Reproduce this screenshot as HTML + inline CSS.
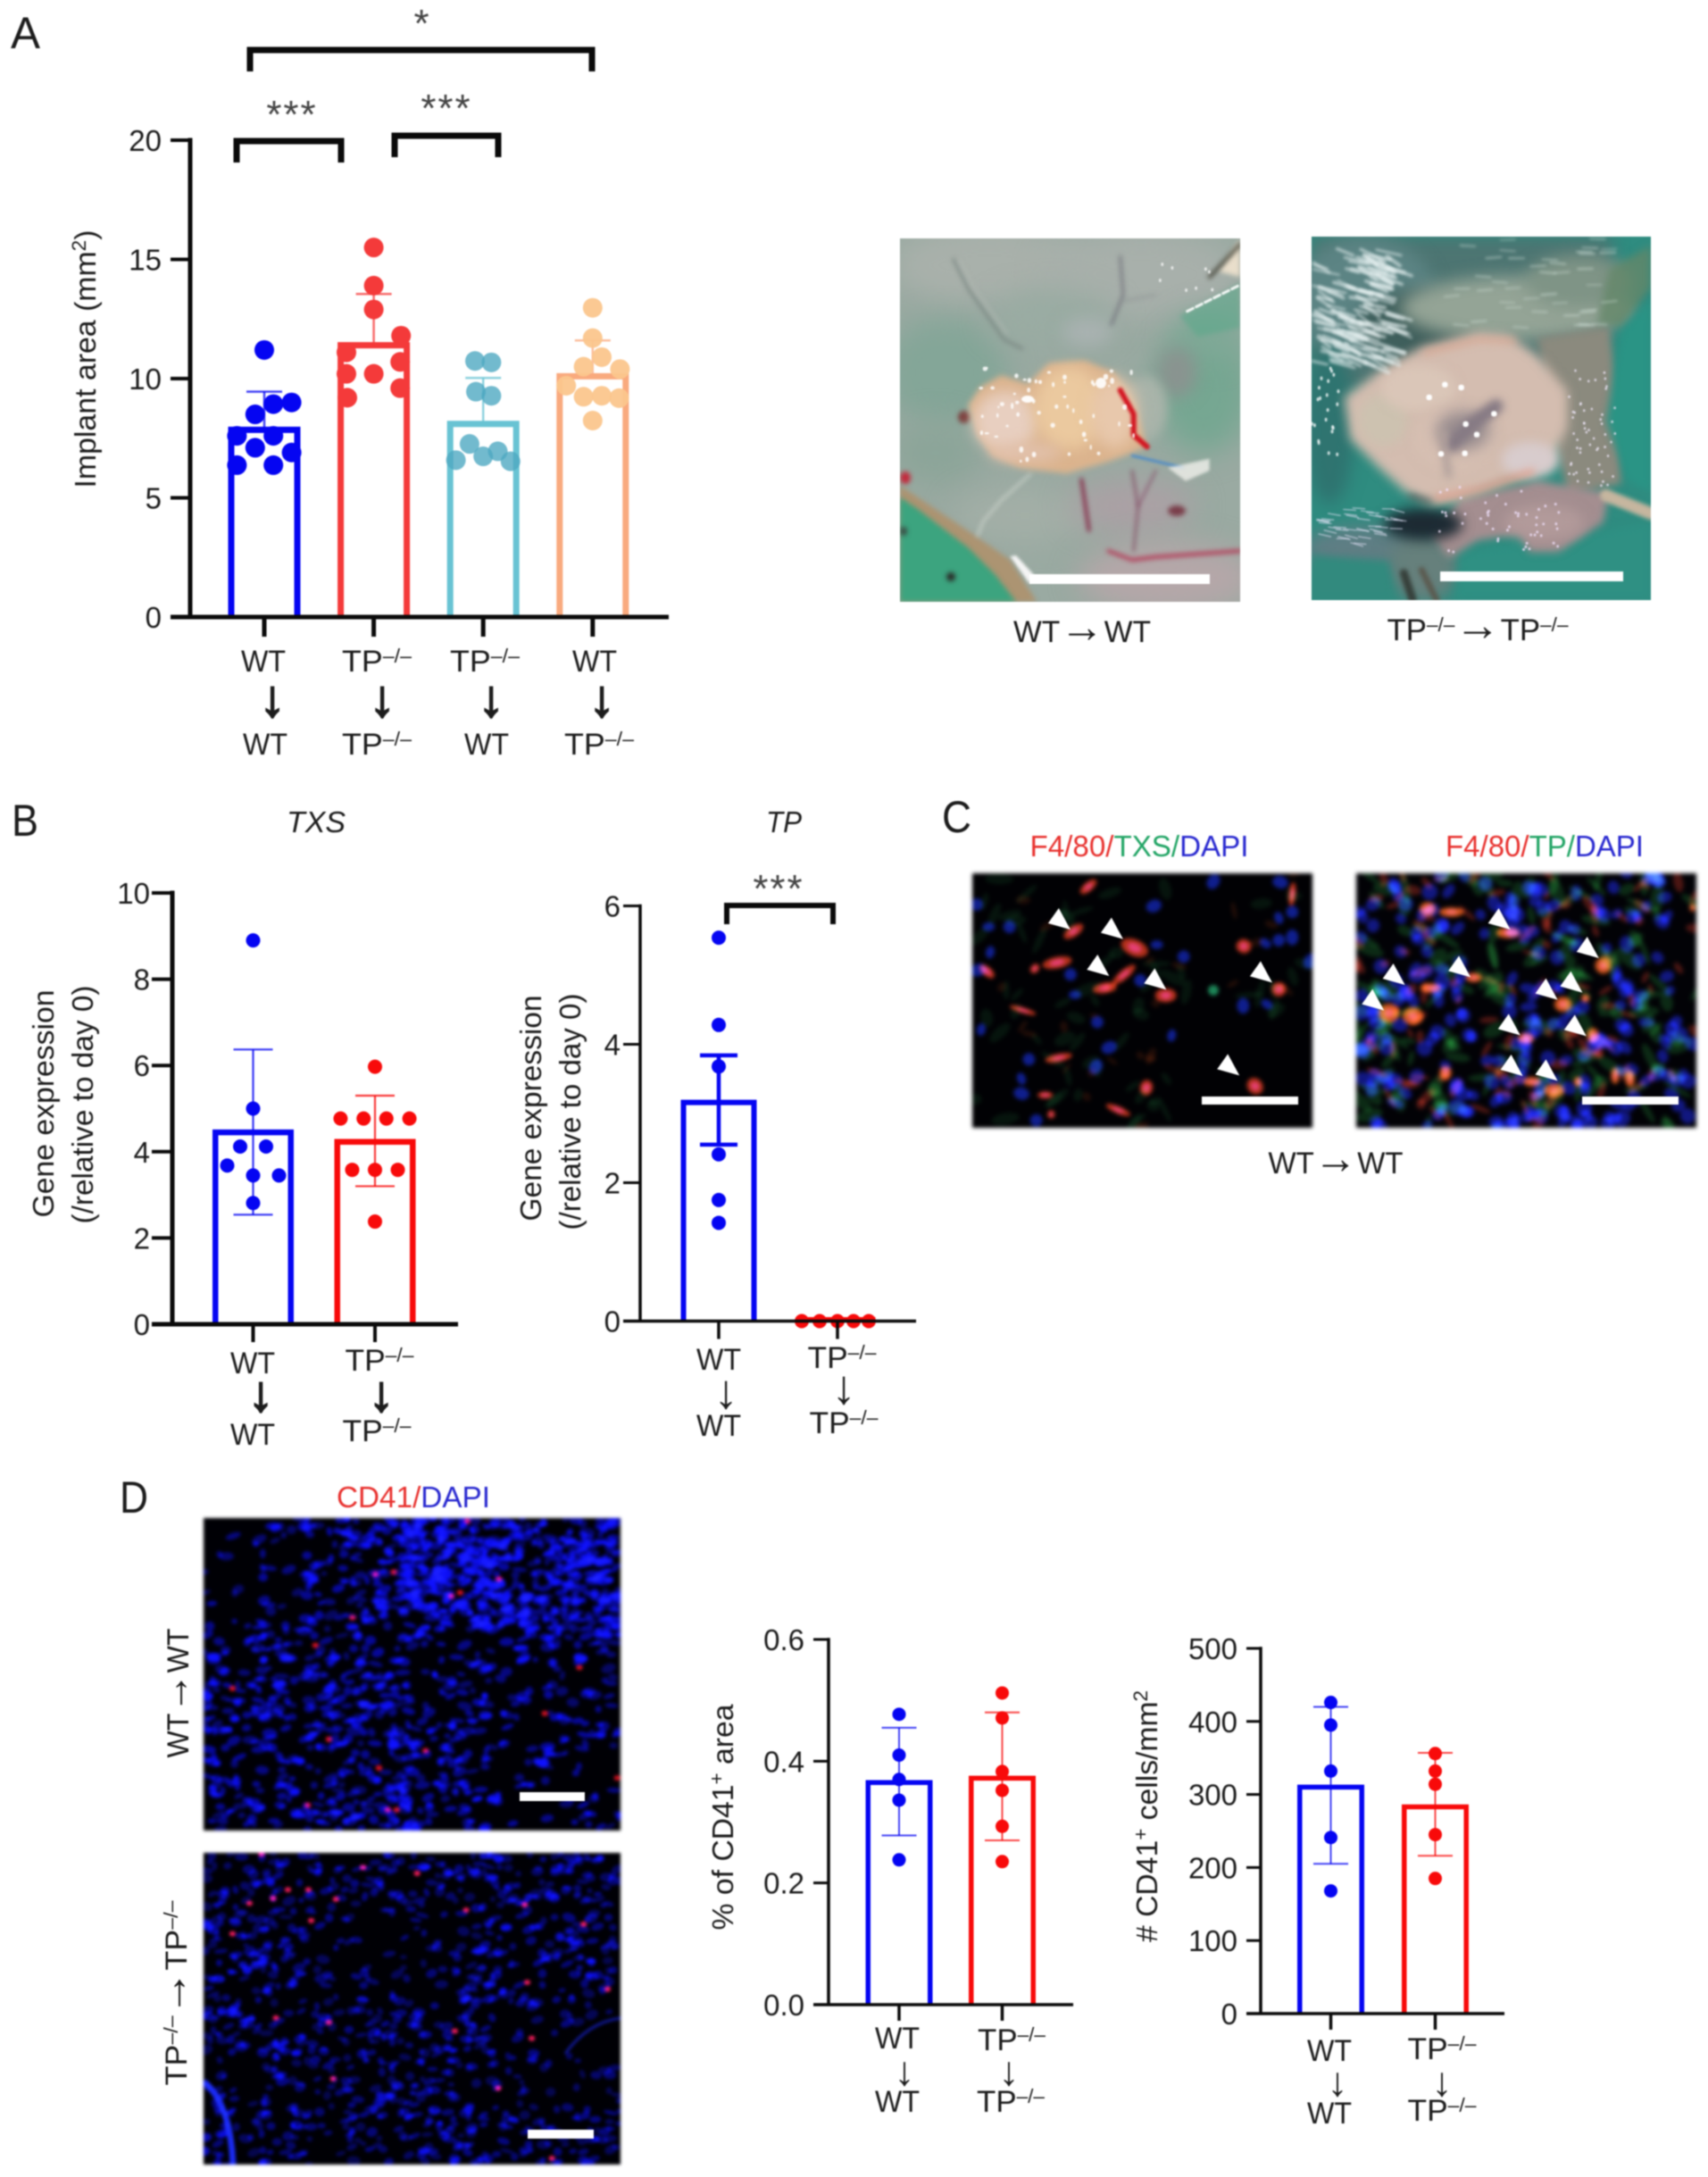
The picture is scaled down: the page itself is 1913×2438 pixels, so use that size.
<!DOCTYPE html>
<html lang="en">
<head>
<meta charset="utf-8">
<title>Implant area, gene expression and CD41 figure</title>
<style>
html,body{margin:0;padding:0;background:#fff;}
#figure{position:relative;width:1913px;height:2438px;overflow:hidden;background:#fff;filter:blur(0.7px);}
canvas{position:absolute;display:block;}
#overlay{position:absolute;left:0;top:0;}
#overlay text{font-family:"Liberation Sans",Arial,sans-serif;fill:#1c1c1c;}
.c{text-anchor:middle;}
</style>
</head>
<body>
<div id="figure">
<canvas id="photoWt" width="381" height="407" style="left:1008px;top:267px"></canvas>
<canvas id="photoTp" width="380" height="407" style="left:1469px;top:265px"></canvas>
<canvas id="microTxs" width="381" height="285" style="left:1089px;top:978px;filter:blur(2.2px)"></canvas>
<canvas id="microTp" width="381" height="285" style="left:1519px;top:978px;filter:blur(2.4px)"></canvas>
<canvas id="cd41Wt" width="467" height="350" style="left:228px;top:1700px;filter:blur(1.8px)"></canvas>
<canvas id="cd41Tp" width="467" height="349" style="left:228px;top:2075px;filter:blur(1.5px)"></canvas>

<svg id="overlay" width="1913" height="2438" viewBox="0 0 1913 2438" xmlns="http://www.w3.org/2000/svg">
  <!-- panel letters -->
  <text x="12" y="54" font-size="50" textLength="33" lengthAdjust="spacingAndGlyphs">A</text>
  <text x="13" y="936" font-size="50" textLength="30" lengthAdjust="spacingAndGlyphs">B</text>
  <text x="1055" y="932" font-size="50" textLength="33" lengthAdjust="spacingAndGlyphs">C</text>
  <text x="134" y="1694" font-size="50" textLength="32" lengthAdjust="spacingAndGlyphs">D</text>

  <!-- panel A static labels -->
  <text class="c" transform="translate(107,402) rotate(-90)" font-size="33" textLength="289" lengthAdjust="spacingAndGlyphs">Implant area (mm<tspan dy="-11" font-size="22">2</tspan><tspan dy="11">)</tspan></text>
  <g font-size="34">
    <text class="c" x="295" y="752" textLength="50" lengthAdjust="spacingAndGlyphs">WT</text>
    <text class="c" x="305" y="802" font-size="58" stroke="#1c1c1c" stroke-width="2">↓</text>
    <text class="c" x="297" y="845" textLength="50" lengthAdjust="spacingAndGlyphs">WT</text>
    <text class="c" x="422" y="752" textLength="78" lengthAdjust="spacingAndGlyphs">TP<tspan dy="-10" font-size="22">–/–</tspan></text>
    <text class="c" x="428" y="802" font-size="58" stroke="#1c1c1c" stroke-width="2">↓</text>
    <text class="c" x="422" y="845" textLength="78" lengthAdjust="spacingAndGlyphs">TP<tspan dy="-10" font-size="22">–/–</tspan></text>
    <text class="c" x="543" y="752" textLength="78" lengthAdjust="spacingAndGlyphs">TP<tspan dy="-10" font-size="22">–/–</tspan></text>
    <text class="c" x="550" y="802" font-size="58" stroke="#1c1c1c" stroke-width="2">↓</text>
    <text class="c" x="545" y="845" textLength="50" lengthAdjust="spacingAndGlyphs">WT</text>
    <text class="c" x="666" y="752" textLength="50" lengthAdjust="spacingAndGlyphs">WT</text>
    <text class="c" x="674" y="802" font-size="58" stroke="#1c1c1c" stroke-width="2">↓</text>
    <text class="c" x="671" y="845" textLength="78" lengthAdjust="spacingAndGlyphs">TP<tspan dy="-10" font-size="22">–/–</tspan></text>
  </g>

  <!-- panel A brackets -->
  <g fill="none" stroke="#0a0a0a" stroke-width="7">
    <path d="M280 80V56H663V80"/>
    <path d="M265 182V158H382V182"/>
    <path d="M442 176V152H558V176"/>
  </g>
  <text class="c" x="472" y="41" font-size="44" style="fill:#444">*</text>
  <text class="c" x="327" y="143" font-size="44" letter-spacing="2" style="fill:#444">***</text>
  <text class="c" x="500" y="136" font-size="44" letter-spacing="2" style="fill:#444">***</text>

  <!-- photo labels -->
  <rect x="1153" y="643" width="202" height="11" fill="#fff"/>
  <rect x="1613" y="640" width="205" height="11" fill="#fff"/>
  <text class="c" x="1212" y="719" font-size="34" textLength="154" lengthAdjust="spacingAndGlyphs">WT<tspan font-size="50">→</tspan>WT</text>
  <text class="c" x="1655" y="717" font-size="34" textLength="203" lengthAdjust="spacingAndGlyphs">TP<tspan dy="-10" font-size="22">–/–</tspan><tspan dy="10" font-size="50">→</tspan>TP<tspan dy="-10" font-size="22">–/–</tspan></text>

  <!-- panel B static labels -->
  <text class="c" x="354" y="932" font-size="33" font-style="italic" textLength="66" lengthAdjust="spacingAndGlyphs">TXS</text>
  <text class="c" x="878" y="932" font-size="33" font-style="italic" textLength="40" lengthAdjust="spacingAndGlyphs">TP</text>
  <text class="c" transform="translate(60,1236) rotate(-90)" font-size="33" textLength="255" lengthAdjust="spacingAndGlyphs">Gene expression</text>
  <text class="c" transform="translate(104,1237) rotate(-90)" font-size="33" textLength="267" lengthAdjust="spacingAndGlyphs">(/relative to day 0)</text>
  <text class="c" transform="translate(606,1241) rotate(-90)" font-size="33" textLength="253" lengthAdjust="spacingAndGlyphs">Gene expression</text>
  <text class="c" transform="translate(650,1245) rotate(-90)" font-size="33" textLength="265" lengthAdjust="spacingAndGlyphs">(/relative to day 0)</text>
  <g font-size="34">
    <text class="c" x="283" y="1538" textLength="50" lengthAdjust="spacingAndGlyphs">WT</text>
    <text class="c" x="292" y="1580" font-size="56" stroke="#1c1c1c" stroke-width="2">↓</text>
    <text class="c" x="283" y="1618" textLength="50" lengthAdjust="spacingAndGlyphs">WT</text>
    <text class="c" x="425" y="1535" textLength="77" lengthAdjust="spacingAndGlyphs">TP<tspan dy="-10" font-size="22">–/–</tspan></text>
    <text class="c" x="427" y="1580" font-size="56" stroke="#1c1c1c" stroke-width="2">↓</text>
    <text class="c" x="422" y="1614" textLength="77" lengthAdjust="spacingAndGlyphs">TP<tspan dy="-10" font-size="22">–/–</tspan></text>
  </g>
  <g font-size="34">
    <text class="c" x="805" y="1534" textLength="50" lengthAdjust="spacingAndGlyphs">WT</text>
    <text class="c" x="813" y="1577" font-size="54">↓</text>
    <text class="c" x="805" y="1608" textLength="50" lengthAdjust="spacingAndGlyphs">WT</text>
    <text class="c" x="943" y="1532" textLength="77" lengthAdjust="spacingAndGlyphs">TP<tspan dy="-10" font-size="22">–/–</tspan></text>
    <text class="c" x="945" y="1572" font-size="54">↓</text>
    <text class="c" x="945" y="1605" textLength="77" lengthAdjust="spacingAndGlyphs">TP<tspan dy="-10" font-size="22">–/–</tspan></text>
  </g>
  <path d="M814 1035V1014H933V1035" fill="none" stroke="#0a0a0a" stroke-width="6"/>
  <text class="c" x="872" y="1010" font-size="44" letter-spacing="2" style="fill:#444">***</text>

  <!-- panel C labels -->
  <text class="c" x="1276" y="959" font-size="33" textLength="245" lengthAdjust="spacingAndGlyphs"><tspan style="fill:#e8322f">F4/80/</tspan><tspan style="fill:#23a566">TXS/</tspan><tspan style="fill:#2a2ad0">DAPI</tspan></text>
  <text class="c" x="1730" y="959" font-size="33" textLength="222" lengthAdjust="spacingAndGlyphs"><tspan style="fill:#e8322f">F4/80/</tspan><tspan style="fill:#23a566">TP/</tspan><tspan style="fill:#2a2ad0">DAPI</tspan></text>
  <text class="c" x="1496" y="1314" font-size="34" textLength="151" lengthAdjust="spacingAndGlyphs">WT<tspan font-size="50">→</tspan>WT</text>
  <rect x="1346" y="1228" width="108" height="9" fill="#fff"/>
  <rect x="1772" y="1228" width="108" height="9" fill="#fff"/>
  <g id="arrowheads"></g>

  <!-- panel D labels -->
  <text class="c" x="463" y="1688" font-size="33" textLength="172" lengthAdjust="spacingAndGlyphs"><tspan style="fill:#e8322f">CD41/</tspan><tspan style="fill:#2a2ad0">DAPI</tspan></text>
  <text class="c" transform="translate(211,1896) rotate(-90)" font-size="34" textLength="145" lengthAdjust="spacingAndGlyphs">WT<tspan font-size="48">→</tspan>WT</text>
  <text class="c" transform="translate(209,2232) rotate(-90)" font-size="34" textLength="207" lengthAdjust="spacingAndGlyphs">TP<tspan dy="-10" font-size="22">–/–</tspan><tspan dy="10" font-size="48">→</tspan>TP<tspan dy="-10" font-size="22">–/–</tspan></text>
  <rect x="582" y="2007" width="73" height="10" fill="#fff"/>
  <rect x="591" y="2385" width="74" height="10" fill="#fff"/>
  <text class="c" transform="translate(821,2035) rotate(-90)" font-size="33" textLength="253" lengthAdjust="spacingAndGlyphs">% of CD41<tspan dy="-11" font-size="22">+</tspan><tspan dy="11"> area</tspan></text>
  <text class="c" transform="translate(1296,2034) rotate(-90)" font-size="33" textLength="282" lengthAdjust="spacingAndGlyphs"># CD41<tspan dy="-11" font-size="22">+</tspan><tspan dy="11"> cells/mm</tspan><tspan dy="-11" font-size="22">2</tspan></text>
  <g font-size="34">
    <text class="c" x="1005" y="2294" textLength="50" lengthAdjust="spacingAndGlyphs">WT</text>
    <text class="c" x="1013" y="2335" font-size="46">↓</text>
    <text class="c" x="1005" y="2365" textLength="50" lengthAdjust="spacingAndGlyphs">WT</text>
    <text class="c" x="1133" y="2296" textLength="76" lengthAdjust="spacingAndGlyphs">TP<tspan dy="-10" font-size="22">–/–</tspan></text>
    <text class="c" x="1130" y="2335" font-size="46">↓</text>
    <text class="c" x="1132" y="2365" textLength="76" lengthAdjust="spacingAndGlyphs">TP<tspan dy="-10" font-size="22">–/–</tspan></text>
  </g>
  <g font-size="34">
    <text class="c" x="1489" y="2308" textLength="50" lengthAdjust="spacingAndGlyphs">WT</text>
    <text class="c" x="1498" y="2347" font-size="46">↓</text>
    <text class="c" x="1489" y="2378" textLength="50" lengthAdjust="spacingAndGlyphs">WT</text>
    <text class="c" x="1615" y="2306" textLength="77" lengthAdjust="spacingAndGlyphs">TP<tspan dy="-10" font-size="22">–/–</tspan></text>
    <text class="c" x="1615" y="2347" font-size="46">↓</text>
    <text class="c" x="1615" y="2375" textLength="77" lengthAdjust="spacingAndGlyphs">TP<tspan dy="-10" font-size="22">–/–</tspan></text>
  </g>
  <g id="charts"></g>
</svg>
</div>

<script>
/* ---------- chart data ---------- */
const implantTickLabels = [0, 5, 10, 15, 20];
const implantMeans = [7.85, 11.4, 8.1, 10.1];
const implantUpper = [9.45, 13.55, 10.03, 11.6];
const implantWtWt = [11.2, 9.0, 8.93, 8.5, 7.6, 7.6, 7.1, 6.9, 6.37, 6.37];
const implantWtWtSlots = [0, 1.5, 0.5, -0.5, 0.5, -1.5, -0.5, 1.5, -1.5, 0.5];
const implantTpTp = [15.5, 13.9, 12.9, 11.8, 11.1, 10.7, 10.2, 10.2, 9.6, 9.2];
const implantTpTpSlots = [0, 0, 0, 1.5, -1.5, 1.45, -1.5, 0, 1.45, -1.45];
const implantTpWt = [10.74, 10.68, 9.45, 9.28, 7.26, 6.95, 6.74, 6.58, 6.53];
const implantTpWtSlots = [-0.45, 0.45, -0.4, 0.45, -0.75, 0.8, 0, -1.5, 1.5];
const implantWtTp = [12.97, 11.7, 10.9, 10.5, 10.4, 9.7, 9.28, 9.24, 9.18, 8.24];
const implantWtTpSlots = [0, 0, 0.5, -0.5, 1.5, -1.45, 0.5, -0.5, 1.45, 0];

const txsTickLabels = [0, 2, 4, 6, 8, 10];
const txsMeans = [4.45, 4.23];
const txsUpper = [6.37, 5.3];
const txsLower = [2.54, 3.2];
const txsWt = [8.9, 5.0, 4.12, 4.12, 3.68, 3.45, 3.45, 2.81];
const txsWtSlots = [0, 0, -0.5, 0.5, -1, 0, 1, 0];
const txsTp = [5.97, 4.77, 4.77, 4.77, 4.77, 3.58, 3.58, 3.58, 2.38];
const txsTpSlots = [0, -1.33, -0.44, 0.44, 1.33, -0.88, 0, 0.88, 0];

const tpTickLabels = [0, 2, 4, 6];
const tpMeans = [3.16, 0.02];
const tpUpper = [3.84, null];
const tpLower = [2.55, null];
const tpWt = [5.54, 4.28, 3.68, 2.41, 1.75, 1.42];
const tpWtSlots = [0, 0, 0, 0, 0, 0];
const tpTp = [0, 0, 0, 0, 0];
const tpTpSlots = [-2, -1, 0, 0.9, 1.75];

const areaTickLabels = ['0.0', '0.2', '0.4', '0.6'];
const areaTickValues = [0, 0.2, 0.4, 0.6];
const areaMeans = [0.365, 0.372];
const areaUpper = [0.455, 0.48];
const areaLower = [0.278, 0.27];
const areaWt = [0.477, 0.41, 0.37, 0.336, 0.238];
const areaWtSlots = [0, 0, 0, 0, 0];
const areaTp = [0.512, 0.471, 0.383, 0.352, 0.293, 0.235];
const areaTpSlots = [0, 0, 0, 0, 0, 0];

const countTickLabels = [0, 100, 200, 300, 400, 500];
const countMeans = [310, 283];
const countUpper = [420, 357];
const countLower = [205, 216];
const countWt = [426, 395, 332, 241, 168];
const countWtSlots = [0, 0, 0, 0, 0];
const countTp = [356, 332, 314, 245, 185];
const countTpSlots = [0, 0, 0, 0, 0];

/* ---------- chart drawing ---------- */
const NS = 'http://www.w3.org/2000/svg';
function mk(parent, tag, attrs) {
  const el = document.createElementNS(NS, tag);
  for (const k in attrs) { el.setAttribute(k, attrs[k]); }
  parent.appendChild(el);
  return el;
}

function drawChart(c) {
  const root = mk(document.getElementById('charts'), 'g', {});
  
  
  const y = v => c.yZero - (v / c.yMax) * (c.yZero - c.yTop);
  const x = i => c.xFirst + i * c.band;

  c.series.forEach((s, i) => {
    const cx = x(i);
    const half = (c.barW - c.barStroke) / 2;
    const bar = mk(root, 'path', {
      d: 'M' + (cx - half) + ' ' + c.yZero + 'V' + y(s.mean) + 'H' + (cx + half) + 'V' + c.yZero,
      fill: 'none', stroke: s.color, 'stroke-width': c.barStroke
    });
    
    
    drawWhisker(root, c, s, cx, y);
    s.values.forEach((v, j) => {
      const dot = mk(root, 'circle', {
        cx: cx + s.slots[j] * c.dotStep, cy: y(v), r: c.dotR,
        fill: s.dotColor, 'fill-opacity': s.dotOpacity
      });
      
      
    });
  });

  const yAxis = mk(root, 'line', {
    x1: c.xAxis, x2: c.xAxis, y1: c.yTop - c.axisW / 2, y2: c.yZero,
    stroke: '#0a0a0a', 'stroke-width': c.axisW
  });
  
  
  const xAxis = mk(root, 'line', {
    x1: c.xAxis - c.tickLen, x2: c.xEnd, y1: c.yZero, y2: c.yZero,
    stroke: '#0a0a0a', 'stroke-width': c.axisW
  });
  
  

  c.tickValues.forEach((v, i) => {
    const tick = mk(root, 'line', {
      x1: c.xAxis - c.tickLen, x2: c.xAxis, y1: y(v), y2: y(v),
      stroke: '#0a0a0a', 'stroke-width': c.tickW
    });
    
    
    const label = mk(root, 'text', {
      x: c.xAxis - c.tickLen - c.tickGap, y: y(v) + 12,
      'font-size': 33, 'text-anchor': 'end'
    });
    
    
    label.textContent = c.tickLabels[i];
  });
  c.series.forEach((s, i) => {
    const tick = mk(root, 'line', {
      x1: x(i), x2: x(i), y1: c.yZero, y2: c.yZero + c.xTickLen,
      stroke: '#0a0a0a', 'stroke-width': c.xTickW
    });
    
    
  });
}

function drawWhisker(root, c, s, cx, y) {
  if (s.upper === null) { return; }
  const lowV = s.lower === null ? s.mean : s.lower;
  const stem = mk(root, 'line', {
    x1: cx, x2: cx, y1: y(s.upper), y2: y(lowV),
    stroke: s.color, 'stroke-width': c.whiskerW, 'stroke-opacity': c.whiskerOpacity
  });
  
  
  const capTop = mk(root, 'line', {
    x1: cx - c.capHalf, x2: cx + c.capHalf, y1: y(s.upper), y2: y(s.upper),
    stroke: s.color, 'stroke-width': c.whiskerW, 'stroke-opacity': c.whiskerOpacity
  });
  
  
  if (s.lower !== null) {
    const capLow = mk(root, 'line', {
      x1: cx - c.capHalf, x2: cx + c.capHalf, y1: y(s.lower), y2: y(s.lower),
      stroke: s.color, 'stroke-width': c.whiskerW, 'stroke-opacity': c.whiskerOpacity
    });
    
    
  }
}

const BLUE = '#0505f2', RED = '#f80a0a';

drawChart({
  name: 'implant-area-chart', xAxis: 213, xEnd: 749, yTop: 157, yZero: 691, yMax: 20,
  xFirst: 296, band: 122.6, barW: 81, barStroke: 7, dotR: 11, dotStep: 20.4,
  axisW: 5, tickW: 4, tickLen: 22, tickGap: 10, xTickLen: 22, xTickW: 5,
  whiskerW: 2.5, whiskerOpacity: 0.75, capHalf: 20,
  tickValues: implantTickLabels, tickLabels: implantTickLabels,
  series: [
    { key: 'wt-wt', mean: implantMeans[0], upper: implantUpper[0], lower: null, color: BLUE, dotColor: BLUE, dotOpacity: 1, values: implantWtWt, slots: implantWtWtSlots },
    { key: 'tp-tp', mean: implantMeans[1], upper: implantUpper[1], lower: null, color: '#f43a3a', dotColor: '#f43a3a', dotOpacity: 1, values: implantTpTp, slots: implantTpTpSlots },
    { key: 'tp-wt', mean: implantMeans[2], upper: implantUpper[2], lower: null, color: '#68c3d3', dotColor: '#4fa9c2', dotOpacity: 0.8, values: implantTpWt, slots: implantTpWtSlots },
    { key: 'wt-tp', mean: implantMeans[3], upper: implantUpper[3], lower: null, color: '#f9aa7e', dotColor: '#fbc68d', dotOpacity: 0.95, values: implantWtTp, slots: implantWtTpSlots }
  ]
});

drawChart({
  name: 'txs-chart', xAxis: 193, xEnd: 513, yTop: 1000, yZero: 1483, yMax: 10,
  xFirst: 283.5, band: 136.5, barW: 91, barStroke: 6.5, dotR: 8, dotStep: 29,
  axisW: 5, tickW: 4, tickLen: 23, tickGap: 2, xTickLen: 20, xTickW: 4,
  whiskerW: 2.2, whiskerOpacity: 0.8, capHalf: 22,
  tickValues: txsTickLabels, tickLabels: txsTickLabels,
  series: [
    { key: 'wt', mean: txsMeans[0], upper: txsUpper[0], lower: txsLower[0], color: BLUE, dotColor: BLUE, dotOpacity: 1, values: txsWt, slots: txsWtSlots },
    { key: 'tp', mean: txsMeans[1], upper: txsUpper[1], lower: txsLower[1], color: RED, dotColor: RED, dotOpacity: 1, values: txsTp, slots: txsTpSlots }
  ]
});

drawChart({
  name: 'tp-chart', xAxis: 717, xEnd: 1026, yTop: 1014.5, yZero: 1479.5, yMax: 6,
  xFirst: 805, band: 133, barW: 85, barStroke: 6, dotR: 8, dotStep: 20,
  axisW: 3.5, tickW: 3, tickLen: 19, tickGap: 3, xTickLen: 20, xTickW: 3.5,
  whiskerW: 4.5, whiskerOpacity: 1, capHalf: 21,
  tickValues: tpTickLabels, tickLabels: tpTickLabels,
  series: [
    { key: 'wt', mean: tpMeans[0], upper: tpUpper[0], lower: tpLower[0], color: BLUE, dotColor: BLUE, dotOpacity: 1, values: tpWt, slots: tpWtSlots },
    { key: 'tp', mean: tpMeans[1], upper: tpUpper[1], lower: tpLower[1], color: RED, dotColor: RED, dotOpacity: 1, values: tpTp, slots: tpTpSlots }
  ]
});

drawChart({
  name: 'cd41-area-chart', xAxis: 928, xEnd: 1202, yTop: 1836, yZero: 2245, yMax: 0.6,
  xFirst: 1007, band: 115.5, barW: 75, barStroke: 5.5, dotR: 7.5, dotStep: 20,
  axisW: 3.5, tickW: 3, tickLen: 17, tickGap: 10, xTickLen: 18, xTickW: 3.5,
  whiskerW: 2, whiskerOpacity: 0.75, capHalf: 19.5,
  tickValues: areaTickValues, tickLabels: areaTickLabels,
  series: [
    { key: 'wt', mean: areaMeans[0], upper: areaUpper[0], lower: areaLower[0], color: BLUE, dotColor: BLUE, dotOpacity: 1, values: areaWt, slots: areaWtSlots },
    { key: 'tp', mean: areaMeans[1], upper: areaUpper[1], lower: areaLower[1], color: RED, dotColor: RED, dotOpacity: 1, values: areaTp, slots: areaTpSlots }
  ]
});

drawChart({
  name: 'cd41-count-chart', xAxis: 1412, xEnd: 1685, yTop: 1846, yZero: 2255, yMax: 500,
  xFirst: 1490.5, band: 117, barW: 75, barStroke: 5.5, dotR: 7.5, dotStep: 20,
  axisW: 3.5, tickW: 3, tickLen: 16, tickGap: 10, xTickLen: 18, xTickW: 3.5,
  whiskerW: 2, whiskerOpacity: 0.75, capHalf: 19.5,
  tickValues: countTickLabels, tickLabels: countTickLabels,
  series: [
    { key: 'wt', mean: countMeans[0], upper: countUpper[0], lower: countLower[0], color: BLUE, dotColor: BLUE, dotOpacity: 1, values: countWt, slots: countWtSlots },
    { key: 'tp', mean: countMeans[1], upper: countUpper[1], lower: countLower[1], color: RED, dotColor: RED, dotOpacity: 1, values: countTp, slots: countTpSlots }
  ]
});

/* ---------- arrowheads on panel C ---------- */
const arrowsTxs = [[262,450],[368,482],[340,606],[455,652],[668,628],[602,940]];
const arrowsTp = [[1147,450],[1325,546],[1067,610],[935,636],[893,722],[1242,686],[1292,662],[1167,805],[1300,808],[1172,942],[1242,958]];
function drawArrow(px, py) {
  const a = mk(document.getElementById('arrowheads'), 'polygon', {
    points: px + ',' + (py - 13) + ' ' + (px - 12) + ',' + (py + 4) + ' ' + (px + 13) + ',' + (py + 11),
    fill: '#fff'
  });
  
  
}
arrowsTxs.forEach(p => drawArrow(1040 + p[0] / 1.796, 880 + p[1] / 3));
arrowsTp.forEach(p => drawArrow(1040 + p[0] / 1.796, 880 + p[1] / 3));

/* ---------- image textures ---------- */
function rng(seed) { let s = seed >>> 0; return () => (s = (s * 1664525 + 1013904223) >>> 0) / 4294967296; }
function el(ctx, x, y, rx, ry, col, rot) {
  ctx.fillStyle = col;
  ctx.beginPath();
  ctx.ellipse(x, y, Math.max(rx, .1), Math.max(ry, .1), rot || 0, 0, Math.PI * 2);
  ctx.fill();
}
function poly(ctx, pts, col) {
  ctx.fillStyle = col;
  ctx.beginPath();
  pts.forEach((p, i) => i ? ctx.lineTo(p[0], p[1]) : ctx.moveTo(p[0], p[1]));
  ctx.closePath();
  ctx.fill();
}
function line(ctx, pts, col, w) {
  ctx.strokeStyle = col; ctx.lineWidth = w; ctx.lineCap = 'round'; ctx.lineJoin = 'round';
  ctx.beginPath();
  pts.forEach((p, i) => i ? ctx.lineTo(p[0], p[1]) : ctx.moveTo(p[0], p[1]));
  ctx.stroke();
}
const T = a => a.map(p => [p[0] / 3, p[1] / 3]);

/* photo: WT to WT (coordinates are 3x crop positions) */
(function () {
  const ctx = document.getElementById('photoWt').getContext('2d');
  ctx.fillStyle = '#9aaaa2'; ctx.fillRect(0, 0, 381, 407);
  ctx.filter = 'blur(16px)';
  el(ctx, 100, 30, 110, 45, '#a9b1ab');
  el(ctx, 270, 40, 110, 50, '#a8b0ab');
  el(ctx, 50, 150, 70, 60, '#84a698');
  el(ctx, 40, 240, 50, 35, '#8ca599');
  el(ctx, 340, 170, 55, 70, '#76a792');
  el(ctx, 345, 110, 40, 25, '#7fa997');
  el(ctx, 140, 310, 80, 30, '#a3afa7');
  el(ctx, 260, 300, 70, 30, '#aba1a5');
  el(ctx, 300, 380, 100, 40, '#b5a7a9');
  el(ctx, 170, 90, 70, 30, '#9aaca3');
  ctx.filter = 'blur(9px)';
  el(ctx, 310, 150, 22, 28, '#8a9490');
  el(ctx, 210, 105, 28, 16, '#a9b2b1');
  ctx.filter = 'blur(2.5px)';
  poly(ctx, T([[940,260],[1143,150],[1143,300],[1000,330]]), 'rgba(92,168,138,.6)');
  poly(ctx, T([[0,830],[240,990],[370,1080],[460,1221],[0,1221]]), '#ac9472');
  poly(ctx, T([[0,870],[60,910],[230,1040],[320,1130],[390,1221],[0,1221]]), '#3ca47f');
  el(ctx, 57, 379, 5, 5, '#2a2c28');
  el(ctx, 4, 328, 4, 5, '#3c4a44');
  line(ctx, T([[180,70],[230,170],[350,340],[410,370]]), '#7b8883', 3);
  line(ctx, T([[195,70],[250,170],[360,320]]), '#b3bab4', 2);
  line(ctx, T([[740,60],[750,190],[710,290]]), '#6f6f79', 2.5);
  line(ctx, T([[750,210],[860,190]]), '#8a8f90', 1.5);
  line(ctx, T([[610,810],[635,980]]), '#86314c', 4);
  line(ctx, T([[780,780],[800,900],[785,1050]]), '#7f4a60', 2.2);
  line(ctx, T([[860,780],[800,900]]), '#85506a', 2);
  line(ctx, T([[700,1050],[780,1080],[860,1070],[1143,1050]]), '#b33c58', 4);
  line(ctx, T([[440,790],[340,880],[280,950],[260,1000]]), '#d6dcd4', 2);
  el(ctx, 310, 305, 10, 6, '#7a3e4a');
  el(ctx, 6, 268, 6, 7, '#c22a3c');
  el(ctx, 72, 200, 7, 7, '#7a3e3c');
  poly(ctx, T([[1070,110],[1143,0],[1143,130]]), '#e9decb');
  line(ctx, T([[1040,130],[1143,20]]), '#4a4a3e', 4);
  ctx.filter = 'blur(6px)';
  el(ctx, 275, 190, 24, 36, '#a9b4aa');
  ctx.filter = 'blur(3px)';
  poly(ctx, T([[230,560],[270,500],[340,460],[430,490],[500,420],[620,410],[720,450],[790,560],[830,700],[700,750],[560,790],[400,770],[310,730],[260,660]]), '#dcb48e');
  ctx.filter = 'blur(8px)';
  el(ctx, 118, 205, 36, 34, '#e8cfc0');
  el(ctx, 190, 190, 40, 46, '#ebc99f');
  el(ctx, 240, 195, 26, 40, '#e8c8ac');
  el(ctx, 140, 240, 40, 10, '#e2c2ae');
  ctx.filter = 'blur(1.5px)';
  line(ctx, T([[740,510],[785,590],[785,660],[830,700]]), '#d3121f', 6);
  line(ctx, T([[780,730],[950,770]]), '#4588cc', 2.5);
  poly(ctx, T([[900,770],[1040,740],[1040,780],[960,815]]), 'rgba(240,240,235,.8)');
  poly(ctx, T([[370,1068],[390,1065],[450,1130],[435,1160]]), '#f5f5f5');
  const r = rng(11);
  ctx.filter = 'blur(.6px)';
  for (let i = 0; i < 55; i++) {
    el(ctx, 85 + r() * 180, 145 + r() * 105, 1 + r() * 1.7, 1.2 + r() * 2.4, 'rgba(255,255,255,.85)');
  }
  el(ctx, 143, 180, 7, 4, 'rgba(255,255,255,.95)');
  el(ctx, 225, 162, 6, 6, 'rgba(255,255,255,.9)');
  for (let i = 0; i < 6; i++) { line(ctx, T([[965 + i * 30, 245 - i * 15],[985 + i * 30, 235 - i * 15]]), 'rgba(255,255,255,.9)', 3); }
  for (let i = 0; i < 8; i++) { el(ctx, 290 + r() * 60, 20 + r() * 40, 1.4, 2, 'rgba(255,255,255,.8)'); }
})();

/* photo: TP to TP (coordinates are 3x crop positions) */
(function () {
  const ctx = document.getElementById('photoTp').getContext('2d');
  ctx.fillStyle = '#2f8c80'; ctx.fillRect(0, 0, 380, 407);
  ctx.filter = 'blur(9px)';
  poly(ctx, T([[0,0],[1010,0],[1010,300],[860,480],[100,520],[0,420]]), '#4d7572');
  el(ctx, 60, 70, 80, 70, '#5c8484');
  el(ctx, 120, 100, 70, 40, '#3f5f5c');
  el(ctx, 230, 80, 130, 36, '#94a496');
  el(ctx, 300, 50, 60, 30, '#7f9486');
  el(ctx, 20, 210, 28, 90, '#2f7470');
  el(ctx, 60, 350, 70, 26, '#5f7e84');
  el(ctx, 125, 370, 40, 40, '#66807c');
  ctx.filter = 'blur(4px)';
  poly(ctx, T([[760,340],[1000,300],[1040,600],[1040,830],[860,870],[800,600]]), '#8b8a7e');
  poly(ctx, T([[1000,110],[1140,30],[1140,170],[1040,300],[960,290]]), 'rgba(100,135,105,.8)');
  poly(ctx, T([[1040,320],[1140,210],[1140,860],[1060,820],[990,620]]), '#2a9485');
  poly(ctx, T([[0,1070],[260,1090],[280,1221],[0,1221]]), '#328a7e');
  poly(ctx, T([[500,1060],[1140,960],[1140,1221],[480,1221]]), '#2f9083');
  poly(ctx, T([[500,880],[760,820],[1000,860],[980,960],[830,1060],[730,1060],[700,1000],[560,1020],[460,1080],[400,1000]]), '#a48e90');
  ctx.filter = 'blur(7px)';
  el(ctx, 125, 322, 44, 18, '#1d2a33');
  el(ctx, 260, 320, 45, 20, '#b29a9a');
  ctx.filter = 'blur(2px)';
  line(ctx, T([[990,870],[1140,930]]), '#c6b69f', 14);
  line(ctx, T([[310,1130],[340,1221]]), '#37403b', 9);
  line(ctx, T([[370,1120],[420,1221]]), '#5b5a50', 7);
  ctx.filter = 'blur(6px)';
  poly(ctx, T([[110,540],[230,450],[370,370],[560,320],[660,330],[760,400],[860,520],[860,640],[800,770],[640,830],[480,890],[400,900],[320,860],[230,780],[130,680]]), '#d4bdb0');
  el(ctx, 80, 205, 28, 30, '#cdc2b0');
  el(ctx, 120, 170, 42, 26, '#dac6b8');
  el(ctx, 160, 225, 46, 36, '#d6bfb2');
  el(ctx, 245, 250, 32, 20, '#d8cccd');
  ctx.filter = 'blur(8px)';
  el(ctx, 170, 217, 30, 22, '#9a8e90');
  ctx.filter = 'blur(4px)';
  line(ctx, T([[420,880],[560,850],[740,790]]), '#e2a493', 7);
  line(ctx, T([[380,390],[560,345],[680,350]]), '#dba994', 5);
  line(ctx, T([[620,570],[540,630],[470,700]]), '#867a84', 16);
  line(ctx, T([[440,660],[460,800]]), '#b0a09c', 8);
  line(ctx, T([[330,870],[400,890]]), '#1a2028', 3);
  const r = rng(37);
  ctx.filter = 'blur(1.5px)';
  for (let i = 0; i < 130; i++) {
    const x = r() * 260, yy = 40 + r() * 390;
    line(ctx, T([[x, yy],[x + 40 + r() * 50, yy + 10 + r() * 30]]), 'rgba(235,245,245,.6)', 2 + r() * 2.5);
  }
  for (let i = 0; i < 40; i++) {
    const x = 420 + r() * 560, yy = 5 + r() * 330;
    line(ctx, T([[x, yy],[x + 50, yy - 5 + r() * 10]]), 'rgba(225,238,232,.42)', 1.5 + r());
  }
  ctx.filter = 'blur(.7px)';
  for (let i = 0; i < 55; i++) { el(ctx, (860 + r() * 160) / 3, (440 + r() * 400) / 3, 1.3, 1.5, 'rgba(240,232,250,.8)'); }
  for (let i = 0; i < 50; i++) { el(ctx, (420 + r() * 420) / 3, (840 + r() * 220) / 3, 1.4, 1.6, 'rgba(240,225,250,.85)'); }
  for (let i = 0; i < 40; i++) {
    const x = r() * 280, yy = 910 + r() * 130;
    line(ctx, T([[x, yy],[x + 40, yy + r() * 12]]), 'rgba(225,225,245,.55)', 1.5);
  }
  for (let i = 0; i < 22; i++) { el(ctx, (r() * 90) / 3, (440 + r() * 340) / 3, 1.5, 2.2, 'rgba(245,250,250,.8)'); }
  [[395,540],[448,497],[503,507],[613,595],[518,630],[555,665],[435,730],[515,728]].forEach(p => el(ctx, p[0] / 3, p[1] / 3, 3.2, 3.2, '#fff'));
})();

/* micrograph: F4/80 TXS DAPI */
const txsNuclei = [[55,180],[125,180],[20,325],[60,265],[15,105],[810,28],[1030,150],[1075,130],[1075,215],[985,235],[1030,225],[1035,30],[345,408],[565,360],[460,585],[670,545],[420,500],[415,650],[165,690],[190,625],[910,445],[990,440],[215,830],[165,740],[620,240],[710,280],[610,110],[30,525],[330,340],[1135,295]];
const txsCells = [[390,45,34,16,-.7],[340,195,38,18,-.6],[285,300,50,20,-.2],[210,320,18,14,-.8],[545,250,48,28,.4],[510,340,48,16,-.7],[445,385,40,18,-.2],[650,410,36,24,0],[912,245,26,24,.2],[1030,390,24,24,0],[290,620,46,14,-.2],[170,460,46,10,.3],[950,715,30,26,.8],[490,795,44,13,.4],[585,720,22,26,.2],[265,810,13,14,0],[50,330,30,16,.7],[1075,70,12,40,.1],[245,745,26,12,0]];
(function () {
  const ctx = document.getElementById('microTxs').getContext('2d');
  ctx.fillStyle = '#010104'; ctx.fillRect(0, 0, 381, 285);
  const r = rng(5);
  ctx.globalCompositeOperation = 'lighter';
  for (let i = 0; i < 90; i++) {
    const x = r() * 381, y = r() * 285;
    if ((x > 230 && y > 160) || (x > 240 && x < 300 && y < 150)) continue;
    el(ctx, x, y, 3 + r() * 4, 7 + r() * 10, 'rgba(15,55,25,.35)', r() * 3);
  }
  for (let i = 0; i < 30; i++) {
    const x = r() * 381, y = r() * 285;
    if (x > 230 && y > 160) continue;
    el(ctx, x, y, 2 + r() * 3, 5 + r() * 5, 'rgba(75,28,8,.4)', r() * 3);
  }
  txsNuclei.forEach((p, i) => el(ctx, p[0] / 3, p[1] / 3, 7, 5 + (i % 3) * 2, 'rgba(20,40,190,.72)', (i % 4) * .6));
  txsCells.forEach(c => {
    el(ctx, c[0] / 3, c[1] / 3, c[2] / 3, c[3] / 3, 'rgba(225,60,28,.78)', c[4]);
    el(ctx, c[0] / 3, c[1] / 3, c[2] / 6, c[3] / 6, 'rgba(95,30,165,.55)', c[4]);
  });
  el(ctx, 270, 131, 6, 6, 'rgba(40,190,120,.7)');
})();

/* micrograph: F4/80 TP DAPI */
const tpCells = [[510,200,34,16],[830,310,24,24],[695,440,26,22],[795,545,18,22],[395,350,24,14],[250,385,30,14],[110,470,30,28],[190,480,30,26],[570,555,24,16],[590,700,26,14],[665,730,30,20],[920,690,14,24],[240,120,24,20],[320,130,36,14],[300,670,18,20],[870,680,12,24],[745,700,12,14],[770,420,12,12],[1130,115,8,12]];
(function () {
  const ctx = document.getElementById('microTp').getContext('2d');
  ctx.fillStyle = '#020206'; ctx.fillRect(0, 0, 381, 285);
  const r = rng(23);
  ctx.globalCompositeOperation = 'lighter';
  for (let i = 0; i < 170; i++) {
    el(ctx, r() * 381, r() * 285, 3 + r() * 5, 8 + r() * 10, 'rgba(28,110,42,.36)', r() * 3);
  }
  for (let i = 0; i < 235; i++) {
    el(ctx, r() * 381, r() * 285, 5 + r() * 4, 6 + r() * 4, 'rgba(24,34,195,.62)', r() * 3);
  }
  for (let i = 0; i < 110; i++) {
    el(ctx, r() * 381, r() * 285, 2.5 + r() * 3, 5 + r() * 8, 'rgba(155,42,28,.48)', r() * 3);
  }
  tpCells.forEach(c => {
    el(ctx, c[0] / 3, c[1] / 3, c[2] / 2.6, c[3] / 2.6, 'rgba(235,95,22,.85)', 0);
    el(ctx, c[0] / 3, c[1] / 3, c[2] / 5.5, c[3] / 5.5, 'rgba(95,50,170,.5)', 0);
  });
})();

/* micrograph: CD41 DAPI */
const cd41WtSpots = [[760,242],[812,237],[1110,252],[1000,282],[975,290],[695,337],[355,493],[1240,548],[1338,447],[628,605],[770,668],[902,630],[568,750],[820,760],[795,760],[1020,125],[590,398],[1445,690]];
const cd41TpSpots = [[355,1033],[578,1004],[470,955],[512,936],[570,936],[648,957],[403,966],[437,858],[725,887],[878,900],[1017,981],[1183,969],[1350,1012],[1190,1140],[1418,1155],[985,1247],[628,1228],[478,1218],[1203,1263],[1108,1373],[640,1352],[1260,1527]];
function cd41(id, seed, count, density, spots, top, spotCol, alpha, sizeX) {
  const ctx = document.getElementById(id).getContext('2d');
  ctx.fillStyle = '#000005'; ctx.fillRect(0, 0, 467, 350);
  const r = rng(seed);
  ctx.globalCompositeOperation = 'lighter';
  for (let i = 0; i < count; i++) {
    const x = r() * 467, y = r() * 350;
    if (r() > density(x, y)) continue;
    el(ctx, x, y, 3 + r() * sizeX, 2.4 + r() * 3, 'rgba(10,12,' + (150 + Math.floor(r() * 105)) + ',' + alpha + ')', -0.5 + r() * .8);
  }
  spots.forEach(p => el(ctx, (p[0] - 273) / 2.53, (p[1] - top) / 1.965, 3.5, 2.8, spotCol));
  return ctx;
}
cd41('cd41Wt', 7, 3000, (x, y) => {
  let d = .42;
  if (x < 110 && y < 120) d = .14;
  if (x > 220 && x < 345 && y < 125) d = 1;
  if (x > 345 && y < 140) d = .7;
  if (x > 150 && x < 220 && y < 130) d = .55;
  if (x > 300 && y > 210) d = .18;
  if (y > 150 && y < 210 && x > 230) d = .28;
  return d;
}, cd41WtSpots, 118, 'rgba(255,20,30,.9)', 0.6, 6);
const tpCtx = cd41('cd41Tp', 19, 2600, (x, y) => {
  let d = .42;
  if (x > 150 && x < 280 && y > 70 && y < 170) d = .15;
  if (x > 300 && y > 170 && y < 280) d = .18;
  return d;
}, cd41TpSpots, 855, 'rgba(255,30,90,.95)', 0.48, 5);
tpCtx.strokeStyle = '#1a2af0'; tpCtx.lineWidth = 7;
tpCtx.beginPath(); tpCtx.moveTo(0, 256); tpCtx.quadraticCurveTo(30, 280, 33, 349); tpCtx.stroke();
tpCtx.strokeStyle = 'rgba(20,30,190,.8)'; tpCtx.lineWidth = 3;
tpCtx.beginPath(); tpCtx.moveTo(467, 185); tpCtx.quadraticCurveTo(430, 190, 405, 225); tpCtx.stroke();
</script>
</body>
</html>
